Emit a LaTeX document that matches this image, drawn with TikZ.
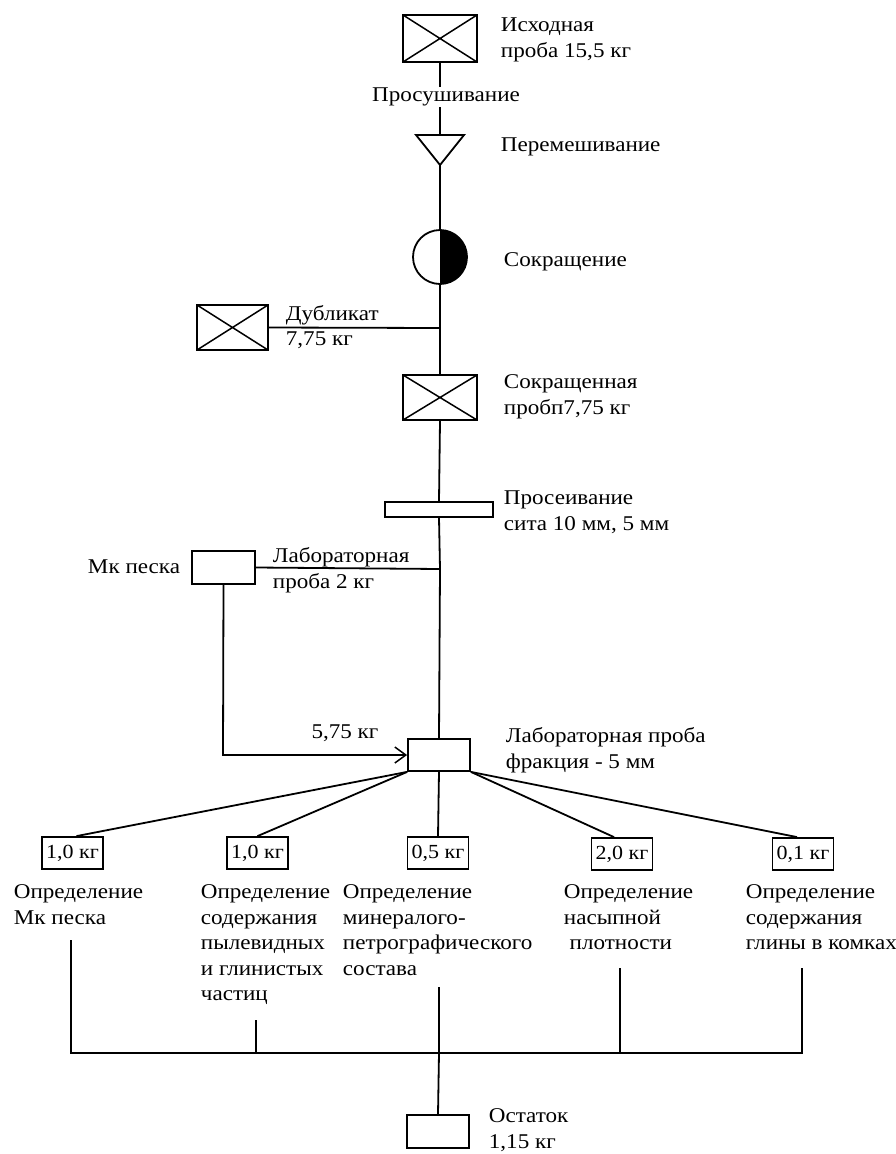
\documentclass[tikz,border=0pt]{standalone}
\usepackage{fontspec}
\setmainfont{Liberation Serif}[FakeStretch=1.1]
\usetikzlibrary{arrows.meta}
\begin{document}
\begin{tikzpicture}[x=1pt,y=-1pt, line width=1.8pt,
  txt/.style={font=\fontsize{21}{25.5}\selectfont, inner sep=0pt, align=left},
  box/.style={draw, rectangle, inner sep=0pt, fill=white},
  xbox/.style={box, path picture={\draw[line width=1.5pt]
     (path picture bounding box.north west)--(path picture bounding box.south east)
     (path picture bounding box.north east)--(path picture bounding box.south west);}},
  kg/.style={box, minimum width=61pt, minimum height=32pt, font=\fontsize{20}{22}\selectfont}
]
\useasboundingbox (0,0) rectangle (896,1154);

% main chain
\node[xbox, minimum width=74pt, minimum height=47pt] (src) at (440,38.5) {};
\node[txt, anchor=west] at (500,40) {Исходная\\проба 15,5 кг};

\coordinate (tritop) at (440,135);
\coordinate (triapex) at (440,165);
\draw (416,135) -- (464,135) -- (triapex) -- cycle;
\node[txt, anchor=west] at (500,147) {Перемешивание};

\node[draw, circle, minimum size=54pt, inner sep=0pt] (red) at (440,257) {};
\fill (440,230) arc[start angle=90, end angle=-90, radius=27pt] -- cycle;
\node[txt, anchor=west] at (503,262) {Сокращение};

\coordinate (cdup) at (440,328);
\node[xbox, minimum width=71pt, minimum height=45pt] (dup) at (232.5,327.5) {};
\node[txt, anchor=west] at (285,327) {Дубликат\\7,75 кг};

\node[xbox, minimum width=74pt, minimum height=45pt] (rp) at (440,397.5) {};
\node[txt, anchor=west] at (503,397) {Сокращенная\\пробп7,75 кг};

\node[box, minimum width=108pt, minimum height=15pt] (sieve) at (439,509.5) {};
\node[txt, anchor=west] at (503,512) {Просеивание\\сита 10 мм, 5 мм};

\coordinate (clab) at (440,569);
\node[box, minimum width=63pt, minimum height=33pt] (mk) at (223.5,567.5) {};
\node[txt, anchor=east] at (181,567) {Мк песка};
\node[txt, anchor=west] at (272,570) {Лабораторная\\проба 2 кг};

\node[box, minimum width=62pt, minimum height=32pt] (lab) at (439,755) {};
\node[txt, anchor=west] at (505,750) {Лабораторная проба\\фракция - 5 мм};
\node[txt] at (345,733) {5,75 кг};

\draw (src.south) -- (tritop);
\draw (triapex) -- (red.north);
\draw (red.south) -- (cdup) -- (rp.north);
\draw (dup.east) -- (cdup);
\draw (rp.south) -- (sieve.north);
\draw (sieve.south) -- (clab) -- (lab.north);
\draw (mk.east) -- (clab);
\coordinate (mkturn) at (223,755);
\draw[-{Straight Barb[length=11pt,width=16pt,line width=1.5pt]}] (mk.south) -- (mkturn) -- (lab.west);
\node[txt, fill=white, inner sep=1pt] at (446,97) {Просушивание};

% mass boxes
\node[kg] (b1) at (72.5,853) {1,0 кг};
\node[kg] (b2) at (257.5,853) {1,0 кг};
\node[kg] (b3) at (438,853) {0,5 кг};
\node[kg] (b4) at (622,854) {2,0 кг};
\node[kg] (b5) at (803,854) {0,1 кг};

\draw (lab.south west) -- ([xshift=4pt]b1.north);
\draw (lab.south west) -- (b2.north);
\draw (lab.south) -- (b3.north);
\draw (lab.south east) -- ([xshift=-8pt]b4.north);
\draw (lab.south east) -- ([xshift=-6pt]b5.north);

% descriptions
\node[txt, anchor=north west] (t1) at (13,884) {Определение\\Мк песка};
\node[txt, anchor=north west] (t2) at (200,884) {Определение\\содержания\\пылевидных\\и глинистых\\частиц};
\node[txt, anchor=north west] (t3) at (342,884) {Определение\\минералого-\\петрографического\\состава};
\node[txt, anchor=north west] (t4) at (563,884) {Определение\\насыпной\\\ плотности};
\node[txt, anchor=north west] (t5) at (745,884) {Определение\\содержания\\глины в комках};

\coordinate (v1) at (71,940);
\coordinate (v2) at (256,1020);
\coordinate (v3) at (439,987);
\coordinate (v4) at (620,968);
\coordinate (v5) at (802,968);
\coordinate (bl) at (71,1053);
\coordinate (br) at (802,1053);
\coordinate (bm) at (439,1053);
\draw (v1) -- (bl) -- (br) -- (v5);
\draw (v2) -- (256,1053);
\draw (v4) -- (620,1053);

\node[box, minimum width=62pt, minimum height=33pt] (ost) at (438,1131.5) {};
\node[txt, anchor=west] at (488,1130) {Остаток\\1,15 кг};
\draw (v3) -- (bm) -- (ost.north);
\end{tikzpicture}
\end{document}
